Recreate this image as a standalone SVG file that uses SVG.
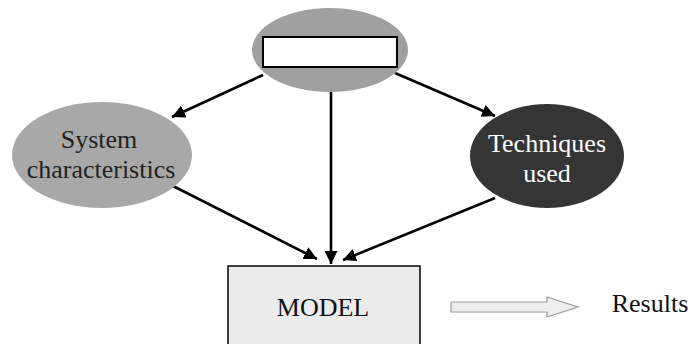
<svg xmlns="http://www.w3.org/2000/svg" width="696" height="344" viewBox="0 0 696 344">
<style>
text{font-family:"Liberation Serif","Times New Roman",serif;font-size:26px;text-anchor:middle}
.c{stroke:#000;stroke-width:2.6;fill:none}
</style>
<defs>
<marker id="ah" viewBox="0 0 10 10" refX="10" refY="5" markerWidth="5" markerHeight="5" markerUnits="strokeWidth" orient="auto">
<path d="M0,0 L10,5 L0,10 Z" fill="#000"/>
</marker>
</defs>
<rect width="696" height="344" fill="#fff"/>
<g id="connectors">
<line class="c" x1="263" y1="75" x2="172" y2="117" marker-end="url(#ah)"/>
<line class="c" x1="395" y1="73" x2="495" y2="116" marker-end="url(#ah)"/>
<line class="c" x1="331" y1="92" x2="331" y2="264" marker-end="url(#ah)"/>
<line class="c" x1="173" y1="186" x2="317" y2="259" marker-end="url(#ah)"/>
<line class="c" x1="495" y1="198" x2="343" y2="260" marker-end="url(#ah)"/>
</g>
<g id="top">
<ellipse cx="330" cy="50" rx="78" ry="42" fill="#a0a0a0"/>
<rect x="263" y="37" width="134" height="30" fill="#fff" stroke="#000" stroke-width="2"/>
</g>
<g id="system">
<ellipse cx="102" cy="155" rx="90" ry="53" fill="#a8a8a8"/>
<text x="99" y="148" fill="#222">System</text>
<text x="101" y="178" fill="#222">characteristics</text>
</g>
<g id="techniques">
<ellipse cx="547" cy="156" rx="77" ry="52" fill="#353535"/>
<text x="547" y="152" fill="#fff">Techniques</text>
<text x="547" y="182" fill="#fff">used</text>
</g>
<g id="model">
<rect x="228" y="266" width="192" height="90" fill="#ebebeb" stroke="#000" stroke-width="1.5"/>
<text x="323" y="316" fill="#111">MODEL</text>
</g>
<g id="results-arrow">
<path d="M451,302 L547,302 L547,297 L578,307 L547,317 L547,312 L451,312 Z" fill="#eeeeee" stroke="#999" stroke-width="1.2"/>
</g>
<g id="results">
<text x="650" y="312" fill="#111">Results</text>
</g>
</svg>
